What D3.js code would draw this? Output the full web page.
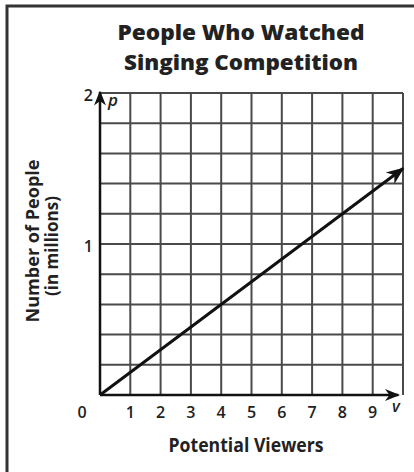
<!DOCTYPE html>
<html>
<head>
<meta charset="utf-8">
<script src="https://cdn.jsdelivr.net/npm/d3@7"></script>
<style>
  body { margin: 0; background: #fff; }
  text { fill: #222; }
</style>
</head>
<body>
<svg id="chart"></svg>
<script>
// chart size
const width = 414;
const height = 472;

// data
const titleLines = ['People Who Watched', 'Singing Competition'];
const titleWidths = [247, 234];
const xTicks = [1, 2, 3, 4, 5, 6, 7, 8, 9];
const yTicks = [1, 2];
const xGrid = [0, 1, 2, 3, 4, 5, 6, 7, 8, 9, 10];
const yGrid = [0, 0.2, 0.4, 0.6, 0.8, 1, 1.2, 1.4, 1.6, 1.8, 2];
const lineV = [0, 10];
const lineP = [0, 1.5];

const svg = d3.select('svg#chart').attr('width', width).attr('height', height);

// frame (only left and top show)
svg.append('path')
    .attr('d', 'M7,472 V6 H414')
    .attr('fill', 'none')
    .attr('stroke', '#333')
    .attr('stroke-width', 3);

const x = d3.scaleLinear().domain([0, 10]).range([100, 403]);
const y = d3.scaleLinear().domain([0, 2]).range([395, 93]);

// title, squeezed to the condensed width of the original
svg.selectAll('text.title')
    .data(titleLines)
    .enter().append('text')
    .attr('class', 'title')
    .attr('x', 241)
    .attr('y', (d, i) => 40 + i * 29.5)
    .attr('text-anchor', 'middle')
    .attr('textLength', (d, i) => titleWidths[i])
    .attr('lengthAdjust', 'spacingAndGlyphs')
    .style('font-family', '"Open Sans", "DejaVu Sans", sans-serif')
    .style('font-weight', 800)
    .style('font-size', '21.5px')
    .text(d => d);

// grid
const grid = svg.append('g').attr('stroke', '#4a4a4a').attr('stroke-width', 2);
grid.selectAll('line.v')
    .data(xGrid.slice(1))
    .enter().append('line')
    .attr('x1', d => x(d)).attr('x2', d => x(d))
    .attr('y1', y(0)).attr('y2', y(2));
grid.selectAll('line.h')
    .data(yGrid.slice(1))
    .enter().append('line')
    .attr('x1', x(0)).attr('x2', x(10))
    .attr('y1', d => y(d)).attr('y2', d => y(d));

// arrowhead
svg.append('defs').append('marker')
    .attr('id', 'arrow')
    .attr('viewBox', '0 0 10 10')
    .attr('refX', 9).attr('refY', 5)
    .attr('markerWidth', 6).attr('markerHeight', 6)
    .attr('markerUnits', 'strokeWidth')
    .attr('orient', 'auto')
    .append('path')
    .attr('d', 'M0,1 L10,5 L0,9 L3,5 Z')
    .attr('fill', '#111');

// axes
svg.append('line')
    .attr('x1', x(0)).attr('y1', y(0))
    .attr('x2', x(0)).attr('y2', y(2) - 1)
    .attr('stroke', '#111').attr('stroke-width', 2.5)
    .attr('marker-end', 'url(#arrow)');
svg.append('line')
    .attr('x1', x(0)).attr('y1', y(0))
    .attr('x2', x(9.85)).attr('y2', y(0))
    .attr('stroke', '#111').attr('stroke-width', 2.5)
    .attr('marker-end', 'url(#arrow)');

// data line
const pts = lineV.map((v, i) => [v, lineP[i]]);
svg.append('path')
    .datum(pts)
    .attr('d', d3.line().x(d => x(d[0])).y(d => y(d[1])))
    .attr('fill', 'none')
    .attr('stroke', '#111')
    .attr('stroke-width', 3)
    .attr('marker-end', 'url(#arrow)');

// tick labels
const tickFont = '"Open Sans", sans-serif';
svg.selectAll('text.xt')
    .data(xTicks)
    .enter().append('text')
    .attr('class', 'xt')
    .attr('x', d => x(d))
    .attr('y', 418)
    .attr('text-anchor', 'middle')
    .style('font-family', tickFont)
    .style('font-weight', 600)
    .style('font-size', '16px')
    .text(d => d);
svg.append('text')
    .attr('x', 82).attr('y', 418)
    .attr('text-anchor', 'middle')
    .style('font-family', tickFont)
    .style('font-weight', 600)
    .style('font-size', '16px')
    .text('0');
svg.selectAll('text.yt')
    .data(yTicks)
    .enter().append('text')
    .attr('class', 'yt')
    .attr('x', 93)
    .attr('y', d => y(d) + 8)
    .attr('text-anchor', 'end')
    .style('font-family', tickFont)
    .style('font-weight', 600)
    .style('font-size', '16px')
    .text(d => d);

// axis variable letters
svg.append('text')
    .attr('x', 108).attr('y', 106)
    .style('font-family', tickFont)
    .style('font-style', 'italic')
    .style('font-weight', 600)
    .style('font-size', '17px')
    .text('p');
svg.append('text')
    .attr('x', 396).attr('y', 412)
    .attr('text-anchor', 'middle')
    .style('font-family', tickFont)
    .style('font-style', 'italic')
    .style('font-weight', 600)
    .style('font-size', '16px')
    .text('v');

// axis titles
svg.append('text')
    .attr('x', 246).attr('y', 452)
    .attr('text-anchor', 'middle')
    .attr('textLength', 155)
    .attr('lengthAdjust', 'spacingAndGlyphs')
    .style('font-family', tickFont)
    .style('font-weight', 'bold')
    .style('font-size', '19px')
    .text('Potential Viewers');

const yTitle = svg.append('text')
    .attr('transform', 'translate(39,241) rotate(-90)')
    .attr('text-anchor', 'middle')
    .style('font-family', tickFont)
    .style('font-weight', 'bold')
    .style('font-size', '18px');
yTitle.append('tspan').attr('x', 0).attr('dy', 0)
    .attr('textLength', 163).attr('lengthAdjust', 'spacingAndGlyphs')
    .text('Number of People');
yTitle.append('tspan').attr('x', -5).attr('dy', 19)
    .attr('textLength', 100).attr('lengthAdjust', 'spacingAndGlyphs')
    .text('(in millions)');
</script>
</body>
</html>
